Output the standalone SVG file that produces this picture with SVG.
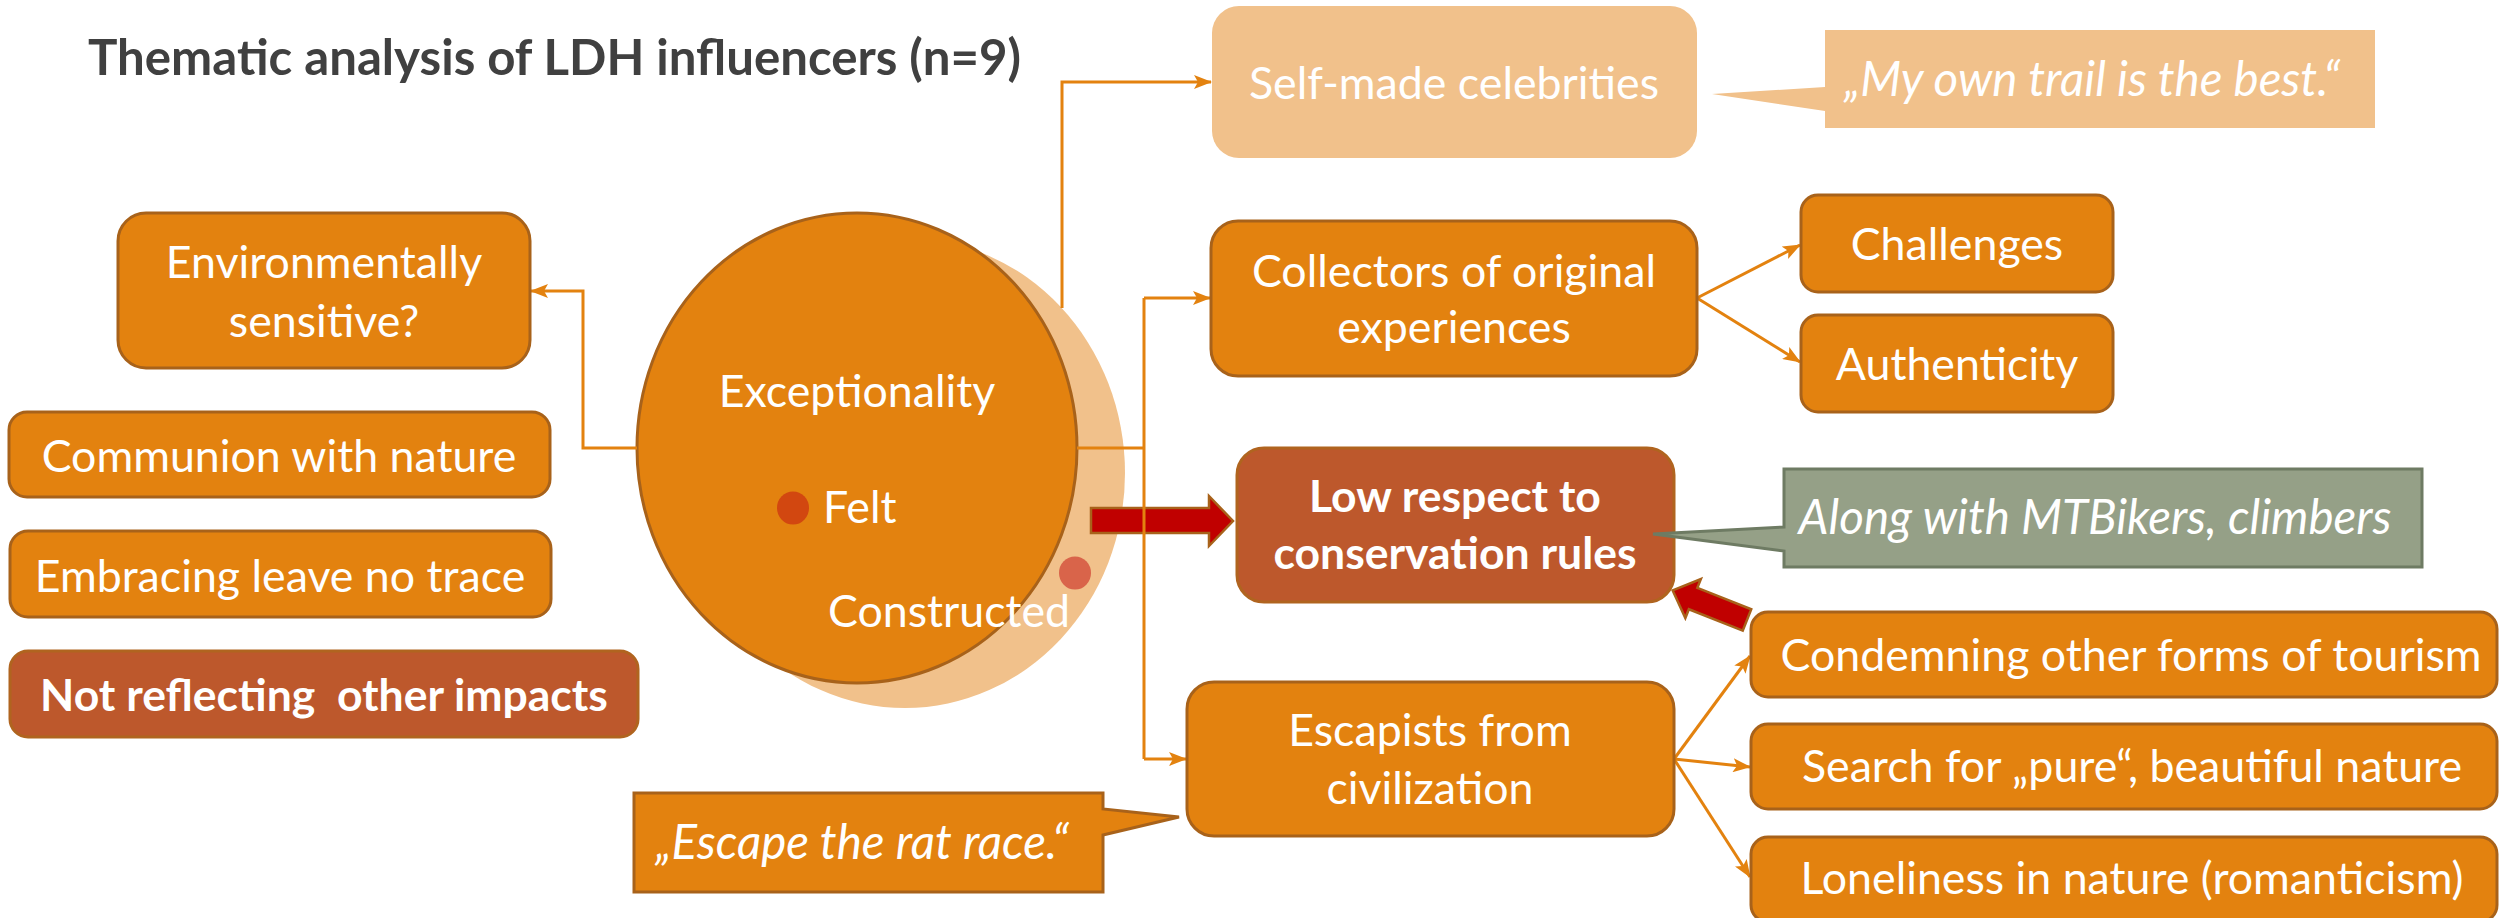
<svg xmlns="http://www.w3.org/2000/svg" width="2501" height="918" viewBox="0 0 2501 918">
<style>
.t{font-family:Lato,"Liberation Sans",sans-serif;font-size:44.7px;fill:#ffffff;text-anchor:middle}
.s{text-anchor:start}
.b{font-weight:bold;font-size:44.5px}
.i{font-style:italic;font-size:47.5px}
.box{fill:#E3820F;stroke:#A8621A;stroke-width:3}
.rust{fill:#BD582C;stroke:#B0641F;stroke-width:3}
.peach{fill:#F1C18B}
.con{fill:none;stroke:#E3820F;stroke-width:3}
.red{fill:#C00000;stroke:#A8621A;stroke-width:2.5}
</style>
<defs>
<marker id="ah" viewBox="0 0 18 14" refX="17" refY="7" markerWidth="18" markerHeight="14" markerUnits="userSpaceOnUse" orient="auto">
<path d="M0,0 L18,7 L0,14 L4,7 z" fill="#E3820F"/>
</marker>
</defs>
<rect width="2501" height="918" fill="#ffffff"/>
<text x="88" y="75" font-family="Lato,'Liberation Sans',sans-serif" font-size="49.2" font-weight="bold" fill="#404040">Thematic analysis of LDH influencers (n=9)</text>

<g id="exceptionality">
<ellipse cx="905" cy="473" rx="220" ry="235" class="peach"/>
<ellipse cx="857" cy="448" rx="220" ry="235" class="box"/>
<text class="t" x="857" y="407">Exceptionality</text>
<ellipse cx="793" cy="508" rx="16" ry="16.5" fill="#D24710"/>
<text class="t s" x="823" y="523">Felt</text>
<ellipse cx="1075" cy="573" rx="16" ry="16.5" fill="#D9644A"/>
<text class="t s" x="828" y="627">Constructed</text>
</g>

<g id="red-arrows">
<polygon class="red" points="1091,508 1209,508 1209,496 1233,521 1209,546 1209,533 1091,533"/>
<polygon class="red" transform="translate(1747,620) rotate(201.7)" points="0,-11.5 58,-11.5 58,-21 80,0 58,21 58,11.5 0,11.5"/>
</g>

<g id="connectors">
<path class="con" d="M637,448 H583 V291 H531" marker-end="url(#ah)"/>
<path class="con" d="M1062,308 V82 H1211" marker-end="url(#ah)"/>
<path class="con" d="M1077,448 H1144 M1144,298 V759"/>
<path class="con" d="M1144,298 H1210" marker-end="url(#ah)"/>
<path class="con" d="M1144,759 H1186" marker-end="url(#ah)"/>
<path class="con" d="M1697,298 L1800,245" marker-end="url(#ah)"/>
<path class="con" d="M1697,298 L1800,362" marker-end="url(#ah)"/>
<path class="con" d="M1674,759 L1750,656" marker-end="url(#ah)"/>
<path class="con" d="M1674,759 L1750,767" marker-end="url(#ah)"/>
<path class="con" d="M1674,759 L1750,877" marker-end="url(#ah)"/>
</g>

<g id="env">
<rect class="box" x="118" y="213" width="412" height="155" rx="28"/>
<text class="t" x="324" y="278">Environmentally</text>
<text class="t" x="324" y="337">sensitive?</text>
</g>
<g id="communion">
<rect class="box" x="9" y="412" width="541" height="85" rx="18"/>
<text class="t" x="279" y="472">Communion with nature</text>
</g>
<g id="embracing">
<rect class="box" x="10" y="531" width="541" height="86" rx="18"/>
<text class="t" x="280" y="592">Embracing leave no trace</text>
</g>
<g id="not-reflecting">
<rect class="rust" x="10" y="651" width="628" height="86" rx="18"/>
<text class="t b" x="324" y="711" xml:space="preserve">Not reflecting  other impacts</text>
</g>

<g id="celebrities">
<rect class="peach" x="1212" y="6" width="485" height="152" rx="27"/>
<text class="t" x="1454" y="99">Self-made celebrities</text>
</g>
<g id="quote-trail">
<path class="peach" d="M1825,30 H2375 V128 H1825 V111 L1712,94 L1825,87 Z"/>
<text class="t i" x="2092" y="96">„My own trail is the best.“</text>
</g>
<g id="collectors">
<rect class="box" x="1211" y="221" width="486" height="155" rx="27"/>
<text class="t" x="1454" y="287">Collectors of original</text>
<text class="t" x="1454" y="343">experiences</text>
</g>
<g id="challenges">
<rect class="box" x="1801" y="195" width="312" height="97" rx="17"/>
<text class="t" x="1957" y="260">Challenges</text>
</g>
<g id="authenticity">
<rect class="box" x="1801" y="315" width="312" height="97" rx="17"/>
<text class="t" x="1957" y="380">Authenticity</text>
</g>
<g id="low-respect">
<rect class="rust" x="1237" y="448" width="437" height="154" rx="27"/>
<text class="t b" x="1455" y="512">Low respect to</text>
<text class="t b" x="1455" y="569">conservation rules</text>
</g>
<g id="quote-mtb">
<path d="M1784,469 H2422 V567 H1784 V551 L1653,534 L1784,527 Z" fill="#95A087" stroke="#6E7B63" stroke-width="3"/>
<text class="t i" x="2095" y="534">Along with MTBikers, climbers</text>
</g>
<g id="escapists">
<rect class="box" x="1187" y="682" width="487" height="154" rx="27"/>
<text class="t" x="1430" y="746">Escapists from</text>
<text class="t" x="1430" y="804">civilization</text>
</g>
<g id="quote-escape">
<path class="box" d="M634,793 H1103 V809 L1179,817 L1103,835 V892 H634 Z"/>
<text class="t i" x="862" y="859">„Escape the rat race.“</text>
</g>
<g id="condemning">
<rect class="box" x="1751" y="612" width="746" height="85" rx="17"/>
<text class="t" x="2131" y="671">Condemning other forms of tourism</text>
</g>
<g id="search">
<rect class="box" x="1751" y="724" width="746" height="85" rx="17"/>
<text class="t" x="2132" y="782">Search for „pure“, beautiful nature</text>
</g>
<g id="loneliness">
<rect class="box" x="1751" y="837" width="746" height="85" rx="17"/>
<text class="t" x="2132" y="894">Loneliness in nature (romanticism)</text>
</g>
</svg>
